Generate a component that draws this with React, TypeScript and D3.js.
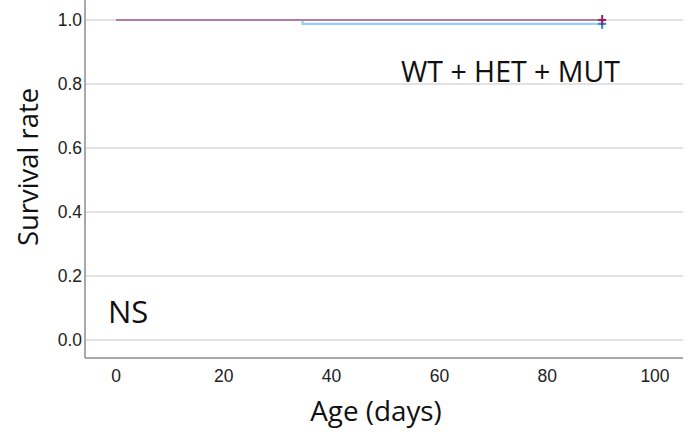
import React from "react";
import * as d3 from "d3";

// Kaplan-Meier step curves: event times (days) and survival after each time
const groupBTimes = [0, 34.6, 90.2];
const groupBSurvival = [1, 0.988, 0.988];
const groupATimes = [0, 90.2];
const groupASurvival = [1, 1];

// censored observations at end of follow-up
const censorA = [{ t: 90.2, s: 1 }];
const censorB = [{ t: 90.2, s: 0.988 }];

const xTicks = [0, 20, 40, 60, 80, 100];
const yTicks = [0, 0.2, 0.4, 0.6, 0.8, 1.0];

const W = 689;
const H = 432;
const left = 85;
const right = 683;
const top = 0;
const bottom = 358;

export default function App() {
  const x = d3.scaleLinear().domain([0, 100]).range([116, 655]);
  const y = d3.scaleLinear().domain([0, 1]).range([340, 20]);

  const line = d3
    .line<[number, number]>()
    .x((d) => x(d[0]))
    .y((d) => y(d[1]))
    .curve(d3.curveStepAfter);

  const ptsA: [number, number][] = groupATimes.map((t, i) => [t, groupASurvival[i]]);
  const ptsB: [number, number][] = groupBTimes.map((t, i) => [t, groupBSurvival[i]]);

  const tickFont = "'Liberation Sans', Arial, sans-serif";
  const labelFont = "'Open Sans', 'Noto Sans', sans-serif";

  const cross = (cx: number, cy: number, color: string, key: string) => (
    <g key={key} stroke={color} strokeWidth={2}>
      <line x1={cx - 4} x2={cx + 4} y1={cy} y2={cy} />
      <line x1={cx} x2={cx} y1={cy - 5} y2={cy + 5} />
    </g>
  );

  return (
    <svg
      width={W}
      height={H}
      style={{ position: "absolute", left: 0, top: 0, background: "#fff" }}
    >
      {/* gridlines */}
      {yTicks.map((v) => (
        <line
          key={"g" + v}
          x1={left}
          x2={right}
          y1={y(v)}
          y2={y(v)}
          stroke="#d9d9d9"
          strokeWidth={1.5}
        />
      ))}

      {/* axes */}
      <line x1={left} x2={left} y1={top} y2={bottom} stroke="#8c8c8c" strokeWidth={1.5} />
      <line x1={left} x2={right} y1={bottom} y2={bottom} stroke="#8c8c8c" strokeWidth={1.5} />

      {/* y tick labels */}
      {yTicks.map((v) => (
        <text
          key={"yt" + v}
          x={82}
          y={y(v)}
          dy="0.36em"
          textAnchor="end"
          fontFamily={tickFont}
          fontSize={17.5}
          fill="#222"
        >
          {d3.format(".1f")(v)}
        </text>
      ))}

      {/* x tick labels */}
      {xTicks.map((v) => (
        <text
          key={"xt" + v}
          x={x(v)}
          y={382}
          textAnchor="middle"
          fontFamily={tickFont}
          fontSize={17.5}
          fill="#222"
        >
          {v}
        </text>
      ))}

      {/* survival curves */}
      <path d={line(ptsB) || ""} fill="none" stroke="#94d0f2" strokeWidth={2.2} />
      <path d={line(ptsA) || ""} fill="none" stroke="#b47ba3" strokeWidth={2.2} />

      {censorB.map((c, i) => cross(x(c.t), y(c.s), "#1f8bd6", "cb" + i))}
      {censorA.map((c, i) => cross(x(c.t), y(c.s), "#a3185c", "ca" + i))}

      {/* annotations */}
      <text x={401} y={82} fontFamily={labelFont} fontSize={28.5} fill="#111">
        WT + HET + MUT
      </text>
      <text x={108} y={323} fontFamily={labelFont} fontSize={31} fill="#111">
        NS
      </text>

      {/* axis titles */}
      <text
        x={376}
        y={421}
        textAnchor="middle"
        fontFamily={labelFont}
        fontSize={27.8}
        fill="#111"
      >
        Age (days)
      </text>
      <text
        transform={`translate(38, 167) rotate(-90)`}
        textAnchor="middle"
        fontFamily={labelFont}
        fontSize={27.4}
        fill="#111"
      >
        Survival rate
      </text>
    </svg>
  );
}
